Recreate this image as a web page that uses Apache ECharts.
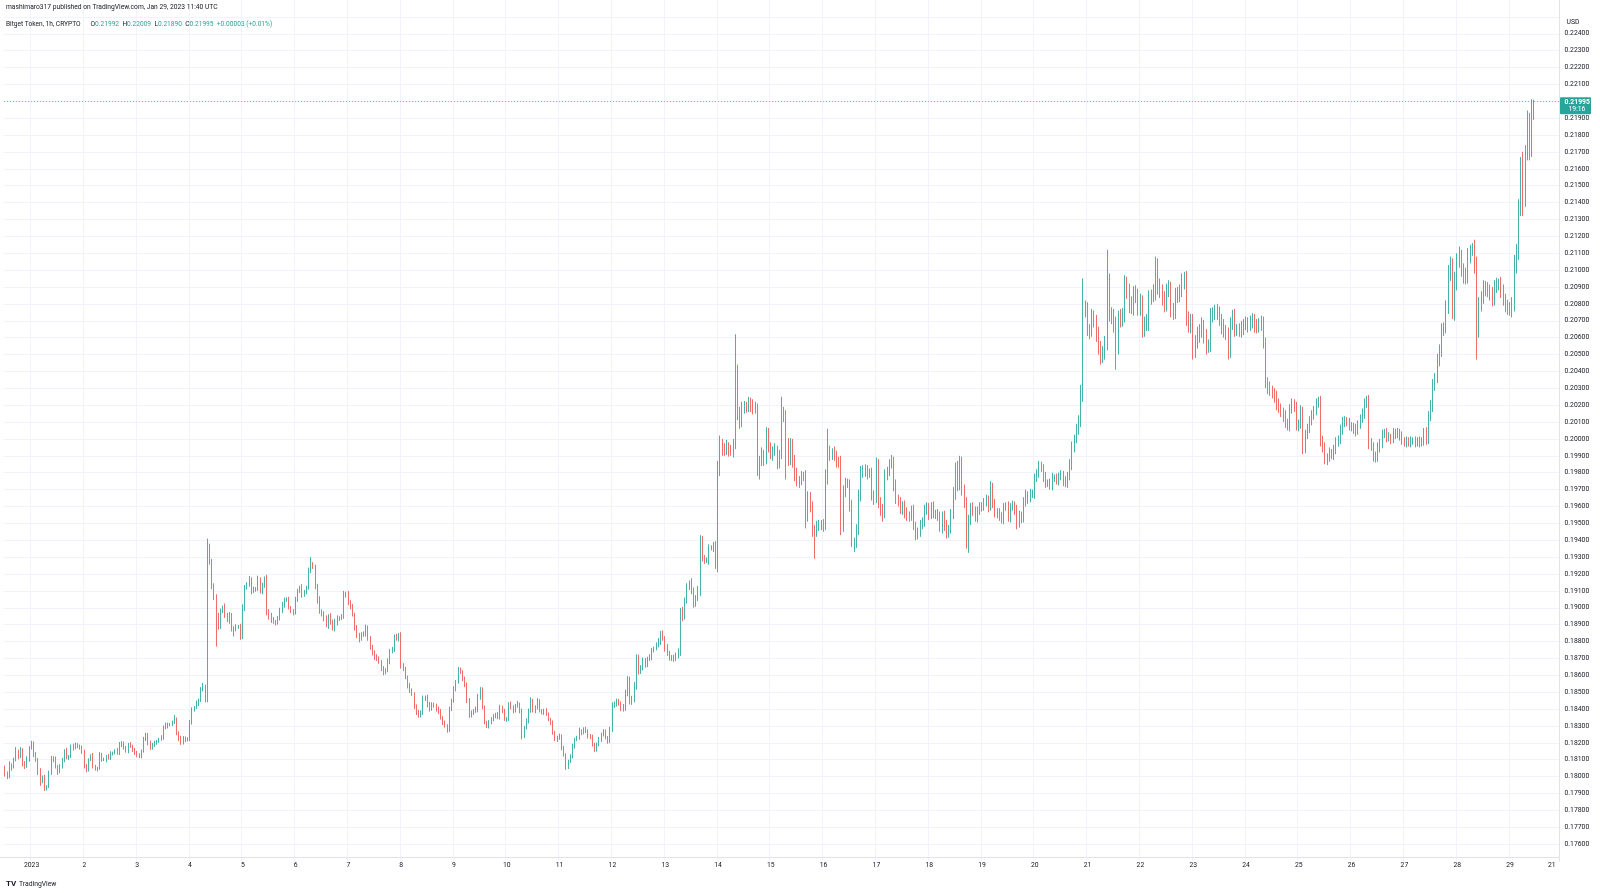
<!DOCTYPE html>
<html><head><meta charset="utf-8">
<script src="https://cdn.jsdelivr.net/npm/echarts@6/dist/echarts.min.js"></script>
<style>html,body{margin:0;padding:0;background:#fff}#c{width:1600px;height:893px}</style>
</head><body><div id="c"></div>
<script>
// Hourly candles, Dec 31 12:00 UTC -> Jan 29 11:00 UTC. Prices in units of 0.00001 USD.
const firstOpen = 18050;
const closes = [
// Dec 31 (12:00-23:00)
18020,18000,18070,18060,18100,18150,18120,18160,18080,18060,18100,18170,
// Jan 1
18200,18130,18100,18030,17970,18000,17930,17940,18020,18110,18100,18060,18030,18060,18100,18150,18110,18120,18180,18170,18190,18180,18170,18150,
// Jan 2
18060,18040,18100,18120,18060,18050,18050,18130,18100,18100,18120,18110,18140,18140,18150,18140,18190,18200,18170,18150,18190,18180,18160,18140,
// Jan 3
18130,18120,18150,18220,18250,18200,18170,18190,18200,18210,18220,18230,18290,18300,18310,18310,18320,18340,18260,18230,18200,18230,18220,18220,
// Jan 4
18320,18400,18410,18430,18450,18520,18530,18450,19270,19270,19130,19070,18940,18890,18980,19000,18960,18930,18960,18880,18880,18890,18890,18830,
// Jan 5
19000,19120,19140,19170,19100,19110,19110,19170,19100,19130,19170,18980,18960,18930,18920,18920,18940,18980,19020,19050,19050,19000,18980,18970,
// Jan 6
19050,19100,19120,19080,19090,19120,19220,19250,19240,19130,19050,18980,18960,18940,18900,18950,18920,18880,18910,18940,18940,18950,19080,19080,
// Jan 7
19030,19010,18960,18880,18840,18820,18840,18850,18880,18820,18770,18730,18710,18700,18680,18640,18620,18630,18680,18740,18750,18830,18820,18840,
// Jan 8
18660,18640,18590,18540,18510,18490,18420,18380,18360,18380,18460,18470,18430,18400,18430,18420,18400,18390,18350,18320,18300,18280,18400,18450,
// Jan 9
18520,18560,18630,18620,18580,18550,18450,18360,18380,18390,18400,18470,18520,18410,18320,18300,18320,18340,18360,18370,18350,18410,18390,18340,
// Jan 10
18340,18430,18410,18390,18420,18430,18390,18240,18290,18330,18390,18450,18390,18410,18450,18390,18380,18390,18370,18340,18320,18260,18220,18230,
// Jan 11
18240,18170,18130,18060,18090,18120,18180,18220,18230,18270,18260,18280,18270,18240,18230,18190,18160,18190,18220,18250,18270,18230,18210,18280,
// Jan 12
18420,18430,18450,18430,18400,18410,18490,18580,18440,18460,18540,18710,18620,18650,18690,18660,18700,18710,18750,18760,18780,18800,18850,18820,
// Jan 13
18760,18730,18700,18710,18700,18720,18740,18980,18950,19040,19130,19150,19100,19030,19060,19100,19410,19300,19280,19280,19360,19360,19370,19250,
// Jan 14
19840,19960,19950,19940,19960,19940,19930,19970,20340,20150,20120,20190,20200,20190,20220,20200,20180,20180,19820,19880,19900,19890,20040,19950,
// Jan 15
19920,19930,19940,19860,19910,20150,20140,19980,19880,19970,19880,19790,19750,19760,19780,19780,19550,19660,19600,19470,19460,19490,19490,19500,
// Jan 16
19490,19780,19930,19910,19920,19900,19870,19860,19490,19690,19740,19740,19610,19370,19390,19460,19670,19800,19820,19810,19800,19800,19670,19650,
// Jan 17
19850,19630,19580,19560,19790,19810,19850,19870,19730,19650,19630,19580,19600,19570,19550,19540,19580,19490,19440,19450,19490,19510,19590,19600,
// Jan 18
19550,19600,19560,19560,19540,19480,19550,19490,19440,19470,19560,19680,19830,19720,19870,19700,19620,19360,19520,19600,19570,19540,19580,19600,
// Jan 19
19600,19630,19640,19600,19720,19620,19570,19560,19540,19530,19600,19600,19540,19600,19610,19580,19500,19550,19530,19630,19670,19650,19680,19680,
// Jan 20
19770,19800,19840,19830,19780,19740,19740,19730,19770,19770,19760,19780,19790,19750,19740,19780,19850,19950,20000,20060,20100,20260,20780,20770,
// Jan 21
20650,20640,20720,20700,20620,20550,20500,20510,20560,20920,20740,20720,20680,20540,20720,20710,20730,20910,20880,20790,20780,20860,20850,20770,
// Jan 22
20810,20650,20680,20690,20840,20850,20870,21020,20910,20880,20830,20800,20880,20890,20770,20750,20850,20860,20880,20930,20950,20720,20670,20700,
// Jan 23
20520,20580,20620,20640,20670,20610,20550,20560,20730,20740,20760,20750,20710,20670,20640,20630,20520,20680,20730,20650,20650,20640,20660,20680,
// Jan 24
20690,20670,20690,20710,20670,20660,20680,20700,20570,20340,20310,20290,20280,20260,20210,20190,20160,20140,20100,20080,20180,20210,20200,20080,
// Jan 25
20090,20170,19950,20030,20060,20110,20150,20170,20210,20230,19990,19960,19880,19890,19920,19910,19940,19980,20000,20060,20100,20110,20100,20080,
// Jan 26
20070,20060,20050,20090,20120,20150,20220,20230,19980,19960,19900,19890,19950,19980,20030,20040,20010,20010,20000,20040,20030,20040,20020,19990,
// Jan 27
19980,19990,19980,19990,19990,19980,19990,19980,19990,20040,20000,20140,20200,20320,20360,20470,20520,20650,20660,20780,20980,21040,20750,20930,
// Jan 28
21060,21070,21000,20970,20960,21090,21130,21130,21020,20650,20800,20840,20900,20890,20880,20870,20830,20900,20920,20920,20880,20830,20800,20780,
// Jan 29 (00:00-11:00)
20770,20800,21040,21110,21380,21640,21420,21700,21900,21710,21992,21995
];
// wick length above the body, same units
const upperWick = [
15,10,20,8,12,25,10,15,8,12,20,10,
12,8,15,10,20,6,10,8,15,12,10,18,8,14,10,12,20,8,10,15,12,8,10,14,
10,15,8,12,20,10,8,16,10,12,8,14,10,8,12,20,15,10,8,12,10,14,8,10,
12,8,10,15,10,8,14,10,12,8,10,15,12,20,10,8,12,25,10,8,12,10,8,12,
15,10,8,20,12,10,25,15,140,110,20,15,10,30,15,12,25,10,15,8,10,12,8,15,
20,15,12,18,10,15,12,20,10,18,15,25,12,10,15,8,12,20,15,10,12,15,10,12,
15,12,10,20,15,10,18,50,20,15,12,18,10,20,15,12,18,10,25,15,10,12,20,15,
20,15,12,10,18,12,15,10,20,15,12,10,18,15,12,10,15,12,20,15,18,12,15,10,
15,12,10,8,15,12,10,8,15,12,20,10,15,12,10,8,12,15,10,8,12,10,15,12,
15,12,20,15,10,12,8,15,12,10,15,20,10,8,12,10,15,12,10,8,12,15,10,12,
12,10,15,12,10,18,8,12,10,15,12,20,10,12,15,8,10,12,15,10,8,12,10,12,
15,10,12,8,10,12,15,10,12,20,10,12,15,10,12,18,10,12,15,10,12,8,10,15,
20,15,12,10,15,20,25,15,12,18,20,15,12,10,15,12,10,15,12,10,15,20,12,15,
12,25,15,10,12,15,20,18,25,20,15,12,25,20,15,30,20,15,12,18,15,10,20,25,
30,60,40,25,35,20,25,30,280,100,40,30,25,20,30,25,35,40,30,20,50,35,30,25,
30,25,35,20,25,100,40,30,25,35,30,25,40,20,30,25,35,30,25,30,20,25,30,20,
25,40,130,30,25,35,30,25,40,35,30,25,20,30,25,35,30,40,25,30,35,25,30,25,
40,30,25,35,30,25,30,35,25,30,20,25,30,35,25,20,25,30,20,25,30,25,20,25,
20,25,30,20,25,30,20,25,30,20,25,35,30,40,30,25,30,35,30,20,25,30,20,25,
25,20,30,25,30,20,25,20,30,25,20,25,30,20,25,20,30,25,20,25,30,20,25,20,
25,20,30,25,20,25,20,25,30,20,25,20,25,20,30,25,30,35,25,30,40,60,170,40,
40,30,50,40,35,45,30,40,50,200,60,40,50,45,40,50,45,60,50,40,55,45,50,40,
50,40,45,50,40,35,45,60,50,40,35,45,40,50,40,35,45,40,35,50,40,45,35,40,
40,35,45,40,50,35,40,30,45,40,35,40,35,30,40,35,30,40,35,40,30,35,40,30,
35,30,40,35,30,40,35,30,25,30,25,30,25,20,25,30,20,25,30,20,25,30,25,20,
25,30,20,25,30,25,20,25,30,20,25,30,20,25,30,20,25,30,20,25,30,25,20,25,
20,25,30,20,25,30,20,25,30,25,20,25,30,20,25,20,25,30,20,25,20,25,20,25,
20,25,20,25,20,25,20,25,20,25,30,25,30,35,30,35,40,35,30,40,50,40,30,60,
40,70,50,40,45,40,20,30,50,60,40,35,40,35,40,35,30,40,35,30,40,35,30,25,
30,40,50,45,40,30,60,40,45,30,20,14
];
// wick length below the body, same units
const lowerWick = [
20,15,10,25,12,10,18,10,20,15,8,12,
10,15,12,20,25,10,15,12,8,10,15,12,20,10,12,15,8,12,10,15,8,12,10,15,
12,15,10,8,12,15,20,10,12,8,15,10,12,15,8,10,12,15,10,8,12,10,15,12,
15,10,12,8,10,15,12,10,15,12,10,8,12,10,15,12,10,8,15,20,12,10,15,12,
10,12,15,10,12,8,15,10,10,15,20,25,170,20,15,12,20,15,25,20,50,20,15,20,
15,20,12,15,20,12,15,10,15,20,12,25,30,20,15,25,20,15,12,20,15,10,12,15,
10,15,12,20,15,10,12,15,10,20,25,15,12,20,15,25,20,15,20,15,18,12,15,20,
15,20,12,15,20,25,15,12,20,15,18,12,20,15,12,15,20,15,12,15,10,12,15,20,
20,15,12,18,15,12,20,15,12,10,15,12,20,15,10,12,15,20,12,15,10,20,15,12,
12,15,10,12,15,20,15,12,10,15,12,20,15,12,10,12,15,10,12,15,10,12,15,10,
15,10,12,15,10,12,15,20,12,10,15,12,10,15,12,10,12,15,10,12,15,12,10,15,
12,15,12,20,15,10,12,15,10,12,15,10,12,15,10,12,15,12,10,15,12,10,15,12,
15,12,15,10,12,15,20,15,12,15,20,25,15,12,20,15,12,15,20,15,12,15,20,15,
20,15,12,15,20,15,20,25,30,20,15,25,20,30,25,20,30,25,20,15,25,20,30,20,
40,60,50,40,35,45,30,40,30,40,60,50,40,35,30,40,35,30,40,60,40,50,40,30,
40,50,30,40,35,30,40,220,40,35,50,40,30,40,35,30,80,40,35,50,170,40,35,30,
40,30,50,40,35,30,40,30,60,40,35,30,40,10,40,35,30,40,30,35,40,30,35,40,
30,40,35,50,30,35,30,25,40,35,30,25,30,40,35,30,25,30,40,35,30,25,30,40,
30,25,30,35,25,30,40,35,30,25,30,35,40,30,25,35,30,10,35,30,25,30,35,30,
30,25,30,35,25,30,35,30,25,30,35,25,30,35,25,30,35,25,30,25,30,35,25,30,
35,25,30,25,35,30,25,30,35,25,30,35,25,30,25,30,25,35,30,25,35,30,40,50,
40,50,35,40,45,50,60,50,40,35,45,40,50,130,40,50,45,40,50,45,40,50,45,40,
40,50,45,40,50,45,40,50,55,45,40,50,45,40,50,45,40,45,50,40,45,50,40,45,
50,40,45,50,40,45,50,40,45,40,35,45,40,50,40,45,50,40,35,45,40,35,40,45,
35,40,30,35,40,35,30,40,35,40,45,35,40,45,40,35,30,40,35,30,35,30,40,30,
35,30,40,35,30,25,30,35,30,25,35,40,30,35,25,30,35,30,25,30,35,30,25,30,
25,30,35,25,30,25,30,35,40,30,35,30,25,30,35,25,30,25,30,25,30,25,30,25,
25,30,25,30,25,30,25,30,25,30,35,30,35,40,35,30,40,35,40,35,40,45,40,50,
50,45,40,50,45,40,50,45,40,180,50,45,40,45,40,50,45,40,35,40,45,40,50,45,
40,50,45,60,50,60,100,45,50,60,40,102
];
// time-axis labels (day starts) and price-axis range
const dayLabels = ['2023','2','3','4','5','6','7','8','9','10','11','12','13','14','15','16','17','18','19','20','21','22','23','24','25','26','27','28','29'];
const tailLabel = '21';
const priceMin = 0.175, priceMax = 0.226, priceStep = 0.001;
const lastPrice = 0.21995;

const UNIT = 1e-5;
const startHourOffset = 12;      // first candle = Dec 31 12:00
const emptyTail = 11;            // empty hourly slots to the right of the last candle
const total = closes.length + emptyTail;

const cats = [];
const labelOf = {};
dayLabels.forEach((t, d) => { labelOf[startHourOffset + 24 * d] = t; });
labelOf[startHourOffset + 24 * 28 + 19] = tailLabel;
for (let i = 0; i < total; i++) cats.push(labelOf[i] !== undefined ? labelOf[i] : ' ' + i);

const data = [];
let prev = firstOpen;
for (let i = 0; i < closes.length; i++) {
  const o = prev, c = closes[i];
  const hi = Math.max(o, c) + (upperWick[i] || 0);
  const lo = Math.min(o, c) - (lowerWick[i] || 0);
  data.push([o * UNIT, c * UNIT, lo * UNIT, hi * UNIT]);
  prev = c;
}
for (let i = 0; i < emptyTail; i++) data.push(['-', '-', '-', '-']);

const FONT = 'Roboto, "Liberation Sans", sans-serif';
const TXT = '#131722';
const UP = '#26a69a', DOWN = '#ef5350';
const UP_WICK = 'rgba(38,166,154,0.85)', DOWN_WICK = 'rgba(239,83,80,0.85)';

const chart = echarts.init(document.getElementById('c'), null, { renderer: 'canvas' });
const gridLeft = 4.1, gridTop = 0, gridW = 2.2 * total, gridH = 861;

chart.setOption({
  animation: false,
  backgroundColor: '#ffffff',
  grid: { left: gridLeft, top: gridTop, width: gridW, height: gridH, containLabel: false },
  xAxis: {
    type: 'category', data: cats, boundaryGap: true,
    axisLine: { show: false }, axisTick: { show: false },
    axisLabel: {
      interval: (idx) => labelOf[idx] !== undefined,
      formatter: (v) => v.startsWith(' ') ? '' : v,
      color: TXT, fontSize: 6.8, fontFamily: FONT, margin: 1, hideOverlap: false
    },
    splitLine: { show: true, interval: (idx) => labelOf[idx] !== undefined && idx < 700, lineStyle: { color: '#f0f3fa', width: 1 } }
  },
  yAxis: {
    type: 'value', position: 'right', min: priceMin, max: priceMax, interval: priceStep,
    axisLine: { show: true, lineStyle: { color: '#e0e3eb' } }, axisTick: { show: false },
    axisLabel: {
      color: TXT, fontSize: 6.8, fontFamily: FONT, margin: 5,
      formatter: (v) => (v > 0.1755 && v < 0.2245 && Math.abs(v - 0.22) > 0.0004) ? v.toFixed(5) : ''
    },
    splitLine: { show: true, showMinLine: false, showMaxLine: false, lineStyle: { color: '#f0f3fa', width: 1 } }
  },
  series: [{
    type: 'candlestick', data: data, large: false, barWidth: 1.3,
    itemStyle: { color: UP, color0: DOWN, borderColor: UP_WICK, borderColor0: DOWN_WICK, borderWidth: 1 },
    markLine: {
      silent: true, symbol: 'none', animation: false,
      label: { show: false },
      lineStyle: { type: [1, 2], color: 'rgba(38,166,154,0.7)', width: 1 },
      data: [{ yAxis: lastPrice }]
    }
  }]
});

const yLast = chart.convertToPixel({ yAxisIndex: 0 }, lastPrice);
const axisX = gridLeft + gridW;
chart.setOption({
  graphic: [
    { type: 'text', left: 6, top: 4, style: { text: 'mashimaro317 published on TradingView.com, Jan 29, 2023 11:40 UTC', fill: TXT, font: '6.7px ' + FONT } },
    { type: 'text', left: 6, top: 18.5, style: {
        text: '{n|Bitget Token, 1h, CRYPTO}   {k|O}{v|0.21992} {k|H}{v|0.22009} {k|L}{v|0.21890} {k|C}{v|0.21995} {v|+0.00003 (+0.01%)}',
        rich: { n: { fill: TXT, fontSize: 6.6, fontFamily: FONT }, k: { fill: TXT, fontSize: 6.6, fontFamily: FONT }, v: { fill: UP, fontSize: 6.6, fontFamily: FONT } } } },
    { type: 'text', x: axisX + 7, y: 18.5, style: { text: 'USD', fill: TXT, font: '6.8px ' + FONT } },
    { type: 'line', shape: { x1: 0, y1: 857.5, x2: axisX, y2: 857.5 }, style: { stroke: '#e0e3eb', lineWidth: 1 } },
    { type: 'rect', shape: { x: axisX + 0.5, y: yLast - 5, width: 31, height: 17, r: 1 }, style: { fill: UP } },
    { type: 'text', x: axisX + 5, y: yLast - 3.5, style: { text: '0.21995', fill: '#ffffff', font: 'bold 6.8px ' + FONT } },
    { type: 'text', x: axisX + 9, y: yLast + 4, style: { text: '19:16', fill: '#ffffff', font: '6.8px ' + FONT } },
    { type: 'text', x: 6, y: 880, style: { text: 'TV', fill: TXT, font: 'bold 8px ' + FONT } },
    { type: 'text', x: 19, y: 880.5, style: { text: 'TradingView', fill: TXT, font: '6.8px ' + FONT } }
  ]
});
</script></body></html>
